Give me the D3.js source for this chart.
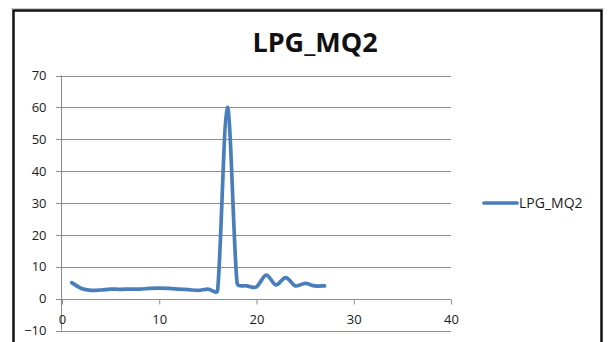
<!DOCTYPE html>
<html>
<head>
  <meta charset="utf-8">
  <style>
    body { margin: 0; background: #fff; }
    svg text { font-family: "Open Sans", "DejaVu Sans", sans-serif; }
    .grid line { stroke: #8c8c8c; stroke-width: 1px; }
    .axis path, .axis line { stroke: #8c8c8c; }
    .axis text { fill: #1a1a1a; font-size: 13px; }
  </style>
  <script src="https://d3js.org/d3.v7.min.js"></script>
</head>
<body>
  <script>
    const seriesName = "LPG_MQ2";
    const xValues = [1, 2, 3, 4, 5, 6, 7, 8, 9, 10, 11, 12, 13, 14, 15, 16, 17, 18, 19, 20, 21, 22, 23, 24, 25, 26, 27];
    const yValues = [5.0, 3.2, 2.6, 2.7, 3.0, 2.9, 3.0, 3.0, 3.2, 3.3, 3.2, 3.0, 2.8, 2.6, 3.0, 2.6, 60, 5.0, 4.0, 3.7, 7.4, 4.3, 6.6, 4.0, 4.8, 4.0, 4.0];
    const xTicks = [0, 10, 20, 30, 40];
    const yTicks = [-10, 0, 10, 20, 30, 40, 50, 60, 70];

    const width = 610, height = 342;
    const lineColor = "#4a7ebb";

    const svg = d3.select("body").append("svg")
      .attr("width", width)
      .attr("height", height);

    svg.append("rect").attr("width", width).attr("height", height).attr("fill", "#fff");

    // outer chart frame
    svg.append("line").attr("x1", 11).attr("x2", 604).attr("y1", 8.5).attr("y2", 8.5)
      .attr("stroke", "#c8c8c8");
    svg.append("rect")
      .attr("x", 13.5).attr("y", 10.5)
      .attr("width", 588).attr("height", 345)
      .attr("fill", "#fff")
      .attr("stroke", "#111")
      .attr("stroke-width", 2.5);

    svg.append("text")
      .attr("x", 315).attr("y", 52)
      .attr("text-anchor", "middle")
      .attr("font-size", 27)
      .attr("font-weight", "bold")
      .attr("fill", "#111")
      .text(seriesName);

    const x = d3.scaleLinear().domain([0, 40]).range([62, 451]);
    const y = d3.scaleLinear().domain([-10, 70]).range([330.5, 75.5]);

    // horizontal gridlines, with small outside ticks on the left
    svg.append("g").attr("class", "grid")
      .selectAll("line").data(yTicks).join("line")
      .attr("x1", 56).attr("x2", 451)
      .attr("y1", d => Math.round(y(d)) + 0.5)
      .attr("y2", d => Math.round(y(d)) + 0.5);

    // vertical axis
    const yAxis = svg.append("g").attr("class", "axis")
      .attr("transform", `translate(${x(0) - 0.5},0)`)
      .call(d3.axisLeft(y).tickValues(yTicks).tickSize(0).tickPadding(15));
    yAxis.select(".domain").attr("d", `M0,${y(70)}V${y(-10)}`);

    // horizontal axis crossing at y = 0
    const xAxis = svg.append("g").attr("class", "axis")
      .attr("transform", `translate(0,${Math.round(y(0)) + 0.5})`)
      .call(d3.axisBottom(x).tickValues(xTicks).tickSize(5).tickSizeOuter(0).tickPadding(10));
    xAxis.select(".domain").remove();
    xAxis.selectAll("text").attr("dy", "0.71em");

    // smoothed line, bezier handles capped at half the segment length
    function smoothPath(pts) {
      const p = d3.path();
      p.moveTo(pts[0][0], pts[0][1]);
      const handle = (a, b, seg) => {
        let hx = (b[0] - a[0]) / 6, hy = (b[1] - a[1]) / 6;
        const len = Math.hypot(hx, hy), cap = seg / 2;
        if (len > cap) { hx *= cap / len; hy *= cap / len; }
        return [hx, hy];
      };
      for (let i = 0; i < pts.length - 1; i++) {
        const p0 = pts[i - 1] || pts[i], p1 = pts[i], p2 = pts[i + 1], p3 = pts[i + 2] || pts[i + 1];
        const seg = Math.hypot(p2[0] - p1[0], p2[1] - p1[1]);
        const t1 = handle(p0, p2, seg), t2 = handle(p1, p3, seg);
        p.bezierCurveTo(p1[0] + t1[0], p1[1] + t1[1], p2[0] - t2[0], p2[1] - t2[1], p2[0], p2[1]);
      }
      return p.toString();
    }

    const points = xValues.map((v, i) => [x(v), y(yValues[i])]);

    svg.append("path")
      .attr("fill", "none")
      .attr("stroke", lineColor)
      .attr("stroke-width", 3.7)
      .attr("stroke-linejoin", "round")
      .attr("stroke-linecap", "round")
      .attr("d", smoothPath(points));

    // legend
    const legend = svg.append("g").attr("transform", "translate(484,203)");
    legend.append("line").attr("x1", 0).attr("x2", 33)
      .attr("stroke", lineColor).attr("stroke-width", 3.7).attr("stroke-linecap", "round");
    legend.append("text").attr("x", 35).attr("dy", "0.35em")
      .attr("font-size", 14).attr("fill", "#1a1a1a")
      .text(seriesName);
  </script>
</body>
</html>
